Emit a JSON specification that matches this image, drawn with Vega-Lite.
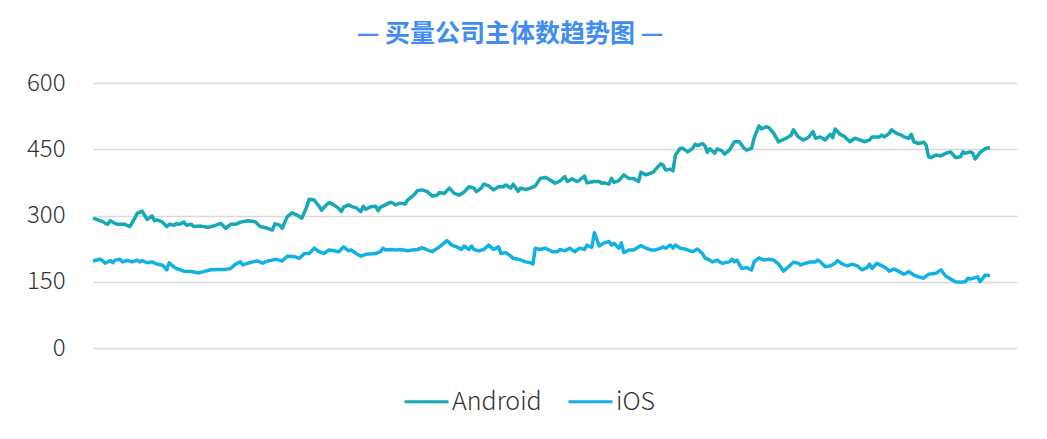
{
  "$schema": "https://vega.github.io/schema/vega-lite/v6.json",
  "width": 924,
  "height": 265,
  "autosize": "none",
  "padding": {"left": 93, "top": 83, "right": 30, "bottom": 91},
  "background": "white",
  "title": {
    "text": "— 买量公司主体数趋势图 —",
    "font": "Noto Sans CJK SC",
    "fontSize": 25,
    "fontWeight": "bold",
    "color": "#3f8cf2",
    "anchor": "middle",
    "dx": -45,
    "offset": 24
  },
  "config": {
    "view": {"stroke": null},
    "font": "Noto Sans CJK SC"
  },
  "data": {
    "values": [
      {"s":"Android","d":0,"v":294},{"s":"Android","d":3,"v":288},{"s":"Android","d":4,"v":286},{"s":"Android","d":5,"v":282},{"s":"Android","d":6,"v":280},{"s":"Android","d":7,"v":288},{"s":"Android","d":9,"v":282},{"s":"Android","d":10,"v":280},{"s":"Android","d":13,"v":280},{"s":"Android","d":15,"v":275},{"s":"Android","d":17,"v":294},{"s":"Android","d":18,"v":305},{"s":"Android","d":20,"v":310},{"s":"Android","d":21,"v":301},{"s":"Android","d":22,"v":291},{"s":"Android","d":24,"v":299},{"s":"Android","d":25,"v":288},{"s":"Android","d":26,"v":290},{"s":"Android","d":28,"v":286},{"s":"Android","d":30,"v":275},{"s":"Android","d":31,"v":280},{"s":"Android","d":33,"v":278},{"s":"Android","d":34,"v":282},{"s":"Android","d":35,"v":280},{"s":"Android","d":37,"v":285},{"s":"Android","d":38,"v":278},{"s":"Android","d":40,"v":280},{"s":"Android","d":41,"v":275},{"s":"Android","d":44,"v":276},{"s":"Android","d":47,"v":273},{"s":"Android","d":50,"v":278},{"s":"Android","d":52,"v":282},{"s":"Android","d":54,"v":271},{"s":"Android","d":56,"v":280},{"s":"Android","d":58,"v":280},{"s":"Android","d":60,"v":285},{"s":"Android","d":63,"v":288},{"s":"Android","d":66,"v":286},{"s":"Android","d":68,"v":275},{"s":"Android","d":71,"v":271},{"s":"Android","d":73,"v":267},{"s":"Android","d":74,"v":281},{"s":"Android","d":76,"v":278},{"s":"Android","d":77,"v":271},{"s":"Android","d":79,"v":297},{"s":"Android","d":81,"v":306},{"s":"Android","d":83,"v":301},{"s":"Android","d":85,"v":294},{"s":"Android","d":87,"v":320},{"s":"Android","d":88,"v":337},{"s":"Android","d":90,"v":335},{"s":"Android","d":92,"v":321},{"s":"Android","d":93,"v":312},{"s":"Android","d":95,"v":324},{"s":"Android","d":96,"v":329},{"s":"Android","d":98,"v":324},{"s":"Android","d":100,"v":316},{"s":"Android","d":101,"v":309},{"s":"Android","d":102,"v":319},{"s":"Android","d":104,"v":324},{"s":"Android","d":106,"v":319},{"s":"Android","d":107,"v":318},{"s":"Android","d":109,"v":309},{"s":"Android","d":110,"v":321},{"s":"Android","d":111,"v":314},{"s":"Android","d":113,"v":320},{"s":"Android","d":115,"v":321},{"s":"Android","d":116,"v":311},{"s":"Android","d":117,"v":319},{"s":"Android","d":119,"v":324},{"s":"Android","d":121,"v":330},{"s":"Android","d":122,"v":328},{"s":"Android","d":123,"v":324},{"s":"Android","d":125,"v":328},{"s":"Android","d":127,"v":326},{"s":"Android","d":128,"v":335},{"s":"Android","d":130,"v":344},{"s":"Android","d":131,"v":349},{"s":"Android","d":132,"v":356},{"s":"Android","d":134,"v":358},{"s":"Android","d":136,"v":354},{"s":"Android","d":138,"v":344},{"s":"Android","d":140,"v":346},{"s":"Android","d":141,"v":352},{"s":"Android","d":143,"v":350},{"s":"Android","d":145,"v":362},{"s":"Android","d":147,"v":350},{"s":"Android","d":149,"v":346},{"s":"Android","d":151,"v":353},{"s":"Android","d":153,"v":365},{"s":"Android","d":155,"v":362},{"s":"Android","d":156,"v":354},{"s":"Android","d":158,"v":362},{"s":"Android","d":159,"v":371},{"s":"Android","d":161,"v":367},{"s":"Android","d":163,"v":358},{"s":"Android","d":165,"v":365},{"s":"Android","d":167,"v":365},{"s":"Android","d":168,"v":369},{"s":"Android","d":170,"v":362},{"s":"Android","d":171,"v":371},{"s":"Android","d":173,"v":355},{"s":"Android","d":174,"v":362},{"s":"Android","d":176,"v":359},{"s":"Android","d":178,"v":362},{"s":"Android","d":180,"v":367},{"s":"Android","d":182,"v":384},{"s":"Android","d":184,"v":386},{"s":"Android","d":185,"v":384},{"s":"Android","d":187,"v":377},{"s":"Android","d":188,"v":373},{"s":"Android","d":190,"v":378},{"s":"Android","d":192,"v":388},{"s":"Android","d":193,"v":377},{"s":"Android","d":195,"v":383},{"s":"Android","d":197,"v":377},{"s":"Android","d":198,"v":380},{"s":"Android","d":200,"v":389},{"s":"Android","d":201,"v":374},{"s":"Android","d":204,"v":377},{"s":"Android","d":206,"v":377},{"s":"Android","d":207,"v":373},{"s":"Android","d":208,"v":374},{"s":"Android","d":210,"v":371},{"s":"Android","d":211,"v":384},{"s":"Android","d":212,"v":375},{"s":"Android","d":214,"v":379},{"s":"Android","d":216,"v":392},{"s":"Android","d":218,"v":384},{"s":"Android","d":220,"v":384},{"s":"Android","d":222,"v":377},{"s":"Android","d":223,"v":398},{"s":"Android","d":225,"v":392},{"s":"Android","d":226,"v":394},{"s":"Android","d":228,"v":398},{"s":"Android","d":229,"v":405},{"s":"Android","d":231,"v":417},{"s":"Android","d":232,"v":414},{"s":"Android","d":233,"v":403},{"s":"Android","d":235,"v":405},{"s":"Android","d":236,"v":401},{"s":"Android","d":237,"v":437},{"s":"Android","d":239,"v":452},{"s":"Android","d":240,"v":452},{"s":"Android","d":242,"v":444},{"s":"Android","d":244,"v":452},{"s":"Android","d":245,"v":461},{"s":"Android","d":246,"v":458},{"s":"Android","d":248,"v":463},{"s":"Android","d":249,"v":458},{"s":"Android","d":250,"v":443},{"s":"Android","d":251,"v":451},{"s":"Android","d":253,"v":441},{"s":"Android","d":254,"v":451},{"s":"Android","d":256,"v":446},{"s":"Android","d":257,"v":439},{"s":"Android","d":259,"v":448},{"s":"Android","d":261,"v":467},{"s":"Android","d":263,"v":467},{"s":"Android","d":265,"v":452},{"s":"Android","d":266,"v":448},{"s":"Android","d":268,"v":452},{"s":"Android","d":269,"v":475},{"s":"Android","d":271,"v":503},{"s":"Android","d":272,"v":496},{"s":"Android","d":274,"v":501},{"s":"Android","d":275,"v":499},{"s":"Android","d":277,"v":486},{"s":"Android","d":279,"v":467},{"s":"Android","d":282,"v":475},{"s":"Android","d":284,"v":481},{"s":"Android","d":285,"v":494},{"s":"Android","d":287,"v":478},{"s":"Android","d":289,"v":471},{"s":"Android","d":291,"v":476},{"s":"Android","d":293,"v":490},{"s":"Android","d":294,"v":475},{"s":"Android","d":296,"v":478},{"s":"Android","d":298,"v":471},{"s":"Android","d":300,"v":484},{"s":"Android","d":301,"v":476},{"s":"Android","d":302,"v":496},{"s":"Android","d":304,"v":484},{"s":"Android","d":306,"v":478},{"s":"Android","d":308,"v":467},{"s":"Android","d":310,"v":475},{"s":"Android","d":312,"v":471},{"s":"Android","d":314,"v":467},{"s":"Android","d":316,"v":471},{"s":"Android","d":317,"v":478},{"s":"Android","d":320,"v":478},{"s":"Android","d":321,"v":482},{"s":"Android","d":322,"v":478},{"s":"Android","d":324,"v":486},{"s":"Android","d":325,"v":494},{"s":"Android","d":327,"v":486},{"s":"Android","d":329,"v":482},{"s":"Android","d":330,"v":478},{"s":"Android","d":332,"v":475},{"s":"Android","d":333,"v":484},{"s":"Android","d":334,"v":467},{"s":"Android","d":336,"v":463},{"s":"Android","d":338,"v":466},{"s":"Android","d":339,"v":460},{"s":"Android","d":340,"v":433},{"s":"Android","d":341,"v":431},{"s":"Android","d":343,"v":437},{"s":"Android","d":345,"v":435},{"s":"Android","d":347,"v":441},{"s":"Android","d":349,"v":444},{"s":"Android","d":351,"v":431},{"s":"Android","d":353,"v":433},{"s":"Android","d":354,"v":444},{"s":"Android","d":355,"v":441},{"s":"Android","d":357,"v":444},{"s":"Android","d":358,"v":441},{"s":"Android","d":359,"v":428},{"s":"Android","d":361,"v":443},{"s":"Android","d":363,"v":451},{"s":"Android","d":365,"v":454},
      {"s":"iOS","d":0,"v":197},{"s":"iOS","d":3,"v":201},{"s":"iOS","d":4,"v":197},{"s":"iOS","d":5,"v":192},{"s":"iOS","d":7,"v":198},{"s":"iOS","d":8,"v":193},{"s":"iOS","d":9,"v":199},{"s":"iOS","d":11,"v":201},{"s":"iOS","d":12,"v":195},{"s":"iOS","d":14,"v":198},{"s":"iOS","d":16,"v":195},{"s":"iOS","d":18,"v":199},{"s":"iOS","d":19,"v":195},{"s":"iOS","d":20,"v":198},{"s":"iOS","d":22,"v":193},{"s":"iOS","d":24,"v":195},{"s":"iOS","d":26,"v":190},{"s":"iOS","d":28,"v":188},{"s":"iOS","d":29,"v":184},{"s":"iOS","d":30,"v":177},{"s":"iOS","d":31,"v":193},{"s":"iOS","d":33,"v":183},{"s":"iOS","d":34,"v":180},{"s":"iOS","d":35,"v":178},{"s":"iOS","d":37,"v":174},{"s":"iOS","d":40,"v":173},{"s":"iOS","d":43,"v":170},{"s":"iOS","d":45,"v":173},{"s":"iOS","d":48,"v":177},{"s":"iOS","d":51,"v":178},{"s":"iOS","d":54,"v":178},{"s":"iOS","d":56,"v":180},{"s":"iOS","d":58,"v":190},{"s":"iOS","d":60,"v":195},{"s":"iOS","d":61,"v":188},{"s":"iOS","d":63,"v":192},{"s":"iOS","d":65,"v":195},{"s":"iOS","d":67,"v":197},{"s":"iOS","d":69,"v":192},{"s":"iOS","d":71,"v":197},{"s":"iOS","d":73,"v":199},{"s":"iOS","d":74,"v":201},{"s":"iOS","d":76,"v":199},{"s":"iOS","d":77,"v":197},{"s":"iOS","d":79,"v":208},{"s":"iOS","d":82,"v":207},{"s":"iOS","d":84,"v":203},{"s":"iOS","d":86,"v":214},{"s":"iOS","d":88,"v":214},{"s":"iOS","d":90,"v":226},{"s":"iOS","d":92,"v":218},{"s":"iOS","d":94,"v":214},{"s":"iOS","d":96,"v":222},{"s":"iOS","d":98,"v":220},{"s":"iOS","d":100,"v":218},{"s":"iOS","d":102,"v":229},{"s":"iOS","d":104,"v":220},{"s":"iOS","d":105,"v":222},{"s":"iOS","d":107,"v":214},{"s":"iOS","d":109,"v":208},{"s":"iOS","d":111,"v":212},{"s":"iOS","d":115,"v":214},{"s":"iOS","d":117,"v":218},{"s":"iOS","d":118,"v":226},{"s":"iOS","d":119,"v":222},{"s":"iOS","d":121,"v":223},{"s":"iOS","d":123,"v":222},{"s":"iOS","d":125,"v":223},{"s":"iOS","d":128,"v":220},{"s":"iOS","d":130,"v":222},{"s":"iOS","d":132,"v":223},{"s":"iOS","d":134,"v":227},{"s":"iOS","d":136,"v":222},{"s":"iOS","d":138,"v":218},{"s":"iOS","d":141,"v":229},{"s":"iOS","d":144,"v":243},{"s":"iOS","d":146,"v":233},{"s":"iOS","d":148,"v":229},{"s":"iOS","d":150,"v":223},{"s":"iOS","d":151,"v":231},{"s":"iOS","d":153,"v":223},{"s":"iOS","d":154,"v":231},{"s":"iOS","d":155,"v":223},{"s":"iOS","d":157,"v":220},{"s":"iOS","d":159,"v":223},{"s":"iOS","d":161,"v":233},{"s":"iOS","d":163,"v":223},{"s":"iOS","d":165,"v":229},{"s":"iOS","d":166,"v":214},{"s":"iOS","d":168,"v":216},{"s":"iOS","d":170,"v":208},{"s":"iOS","d":171,"v":203},{"s":"iOS","d":173,"v":201},{"s":"iOS","d":176,"v":195},{"s":"iOS","d":178,"v":193},{"s":"iOS","d":179,"v":190},{"s":"iOS","d":180,"v":226},{"s":"iOS","d":182,"v":223},{"s":"iOS","d":184,"v":226},{"s":"iOS","d":187,"v":218},{"s":"iOS","d":189,"v":218},{"s":"iOS","d":190,"v":223},{"s":"iOS","d":192,"v":220},{"s":"iOS","d":194,"v":226},{"s":"iOS","d":196,"v":218},{"s":"iOS","d":198,"v":226},{"s":"iOS","d":200,"v":223},{"s":"iOS","d":201,"v":233},{"s":"iOS","d":203,"v":228},{"s":"iOS","d":204,"v":261},{"s":"iOS","d":206,"v":231},{"s":"iOS","d":208,"v":238},{"s":"iOS","d":210,"v":241},{"s":"iOS","d":211,"v":233},{"s":"iOS","d":212,"v":237},{"s":"iOS","d":214,"v":226},{"s":"iOS","d":215,"v":238},{"s":"iOS","d":216,"v":216},{"s":"iOS","d":218,"v":222},{"s":"iOS","d":220,"v":222},{"s":"iOS","d":223,"v":232},{"s":"iOS","d":225,"v":226},{"s":"iOS","d":227,"v":222},{"s":"iOS","d":229,"v":222},{"s":"iOS","d":231,"v":226},{"s":"iOS","d":232,"v":229},{"s":"iOS","d":233,"v":226},{"s":"iOS","d":235,"v":233},{"s":"iOS","d":236,"v":226},{"s":"iOS","d":237,"v":233},{"s":"iOS","d":239,"v":226},{"s":"iOS","d":241,"v":224},{"s":"iOS","d":243,"v":220},{"s":"iOS","d":244,"v":218},{"s":"iOS","d":246,"v":224},{"s":"iOS","d":248,"v":214},{"s":"iOS","d":249,"v":204},{"s":"iOS","d":251,"v":199},{"s":"iOS","d":252,"v":195},{"s":"iOS","d":254,"v":199},{"s":"iOS","d":255,"v":195},{"s":"iOS","d":256,"v":192},{"s":"iOS","d":259,"v":195},{"s":"iOS","d":260,"v":201},{"s":"iOS","d":261,"v":195},{"s":"iOS","d":262,"v":199},{"s":"iOS","d":264,"v":180},{"s":"iOS","d":266,"v":182},{"s":"iOS","d":268,"v":177},{"s":"iOS","d":269,"v":195},{"s":"iOS","d":271,"v":204},{"s":"iOS","d":273,"v":199},{"s":"iOS","d":275,"v":201},{"s":"iOS","d":277,"v":199},{"s":"iOS","d":279,"v":190},{"s":"iOS","d":281,"v":174},{"s":"iOS","d":283,"v":184},{"s":"iOS","d":285,"v":194},{"s":"iOS","d":287,"v":192},{"s":"iOS","d":288,"v":188},{"s":"iOS","d":290,"v":192},{"s":"iOS","d":292,"v":195},{"s":"iOS","d":294,"v":195},{"s":"iOS","d":295,"v":199},{"s":"iOS","d":296,"v":195},{"s":"iOS","d":298,"v":184},{"s":"iOS","d":300,"v":186},{"s":"iOS","d":302,"v":192},{"s":"iOS","d":303,"v":198},{"s":"iOS","d":305,"v":190},{"s":"iOS","d":307,"v":186},{"s":"iOS","d":309,"v":190},{"s":"iOS","d":311,"v":186},{"s":"iOS","d":313,"v":177},{"s":"iOS","d":315,"v":182},{"s":"iOS","d":316,"v":190},{"s":"iOS","d":317,"v":180},{"s":"iOS","d":319,"v":192},{"s":"iOS","d":321,"v":186},{"s":"iOS","d":323,"v":180},{"s":"iOS","d":324,"v":174},{"s":"iOS","d":326,"v":179},{"s":"iOS","d":328,"v":173},{"s":"iOS","d":330,"v":167},{"s":"iOS","d":332,"v":173},{"s":"iOS","d":334,"v":165},{"s":"iOS","d":336,"v":161},{"s":"iOS","d":338,"v":158},{"s":"iOS","d":340,"v":167},{"s":"iOS","d":343,"v":169},{"s":"iOS","d":345,"v":177},{"s":"iOS","d":347,"v":163},{"s":"iOS","d":349,"v":156},{"s":"iOS","d":351,"v":150},{"s":"iOS","d":353,"v":149},{"s":"iOS","d":355,"v":150},{"s":"iOS","d":356,"v":158},{"s":"iOS","d":357,"v":156},{"s":"iOS","d":360,"v":161},{"s":"iOS","d":361,"v":150},{"s":"iOS","d":363,"v":165},{"s":"iOS","d":365,"v":164}
    ]
  },
  "mark": {"type": "line", "strokeWidth": 3.5, "strokeJoin": "round", "interpolate": "linear"},
  "encoding": {
    "x": {"field": "d", "type": "quantitative", "scale": {"domain": [0, 376], "nice": false, "zero": false}, "axis": null},
    "y": {
      "field": "v", "type": "quantitative",
      "scale": {"domain": [0, 600], "nice": false},
      "axis": {
        "values": [0, 150, 300, 450, 600],
        "title": null,
        "domain": false,
        "ticks": false,
        "labelPadding": 28,
        "labelFontSize": 24,
        "labelFont": "Noto Sans CJK SC",
        "labelFontWeight": 300,
        "labelColor": "#333333",
        "gridColor": "#d9d9d9",
        "gridWidth": 1.5
      }
    },
    "color": {
      "field": "s", "type": "nominal",
      "scale": {"domain": ["Android", "iOS"], "range": ["#17a8b5", "#13b1e3"]},
      "legend": {
        "title": null,
        "orient": "none",
        "legendX": 310,
        "legendY": 295,
        "direction": "horizontal",
        "symbolType": "stroke",
        "symbolSize": 1936,
        "symbolStrokeWidth": 3,
        "labelFontSize": 25,
        "labelFont": "Noto Sans CJK SC",
        "labelFontWeight": 300,
        "labelColor": "#333333",
        "labelOffset": 2,
        "columnPadding": 20
      }
    }
  }
}
